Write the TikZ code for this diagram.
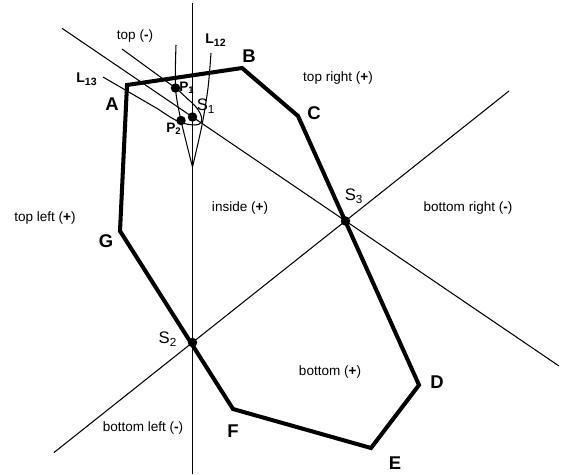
\documentclass[tikz,border=0pt]{standalone}
\usepackage{fontspec}
\setmainfont{Liberation Sans}
\usepackage{tikz}
\usetikzlibrary{calc}

\begin{document}
\begin{tikzpicture}[
  x=0.02cm, y=-0.02cm,
  region/.style={font=\fontsize{7.7}{9}\selectfont},
  vtx/.style={font=\fontsize{10.5}{12}\selectfont\bfseries},
  cut/.style={font=\fontsize{9.5}{11}\selectfont},
  ptlab/.style={font=\fontsize{7.8}{9}\selectfont\bfseries},
  linelab/.style={font=\fontsize{8}{9}\selectfont\bfseries},
  poly/.style={line width=2.3pt,line join=miter},
  ray/.style={line width=0.6pt}
]
\useasboundingbox (0,0) rectangle (563,474);
% polygon corners and cut points
\coordinate (A) at (127,85);
\coordinate (B) at (242,68);
\coordinate (C) at (298,116);
\coordinate (D) at (419,385);
\coordinate (E) at (371,448);
\coordinate (F) at (233,409);
\coordinate (G) at (120,231);
\coordinate (S1) at (192.5,117);
\coordinate (S2) at (192.5,342.5);
\coordinate (S3) at (345.5,221);
\coordinate (P1) at (175.5,88);
\coordinate (P2) at (181,120.5);
\coordinate (tip) at (192.5,167);
% free ends of the lines
\coordinate (vtop) at (192.5,3);
\coordinate (vbot) at (192.5,474);
\coordinate (mainul) at (62,28.3);
\coordinate (mainlr) at (559,366);
\coordinate (diagll) at (54,452.5);
\coordinate (diagur) at (509,91);
\coordinate (topend) at (122,49);
\coordinate (l13end) at (103,77);
\draw[ray] (vtop) -- (vbot);
\draw[ray] (mainul) -- (mainlr);
\draw[ray] (diagll) -- (diagur);
\draw[ray] plot[smooth] coordinates {(176,45) (P1) (P2) (tip)};
\draw[ray] plot[smooth] coordinates {(211,53) (208,88) (202,125) (tip)};
\draw[ray] (l13end) -- (158,109) .. controls (170,117) and (180,125) .. (195,125)
  .. controls (206,125) and (203,112) .. (190,101)
  .. controls (184,96) and (180,91) .. (P1) -- (topend);
\draw[poly] (A) -- (B) -- (C) -- (D) -- (E) -- (F) -- (G) -- cycle;
\foreach \p in {S1,S2,S3,P1,P2}
  \fill (\p) circle[radius=2.7pt];
% labels
\node[vtx] (labA) at (112,104) {A};
\node[vtx] (labB) at (249,56) {B};
\node[vtx] (labC) at (314,113) {C};
\node[vtx] (labD) at (437,382) {D};
\node[vtx] (labE) at (395,463) {E};
\node[vtx] (labF) at (233,431) {F};
\node[vtx] (labG) at (106,241) {G};
\node[cut] (labS1) at (206,106) {S\textsubscript{1}};
\node[cut] (labS2) at (168,339) {S\textsubscript{2}};
\node[cut] (labS3) at (354,196) {S\textsubscript{3}};
\node[ptlab] (labP1) at (187,88) {P\textsubscript{1}};
\node[ptlab] (labP2) at (174,129) {P\textsubscript{2}};
\node[linelab] (labL12) at (216,40) {L\textsubscript{12}};
\node[linelab] (labL13) at (87,79) {L\textsubscript{13}};
\node[region] (top) at (135,36) {top (\textbf{-})};
\node[region] (topright) at (338,78) {top right (\textbf{+})};
\node[region] (topleft) at (45,218) {top left (\textbf{+})};
\node[region] (inside) at (240,208) {inside (\textbf{+})};
\node[region] (botright) at (468,208) {bottom right (\textbf{-})};
\node[region] (bottom) at (330,372) {bottom (\textbf{+})};
\node[region] (botleft) at (143,428) {bottom left (\textbf{-})};
\end{tikzpicture}
\end{document}
